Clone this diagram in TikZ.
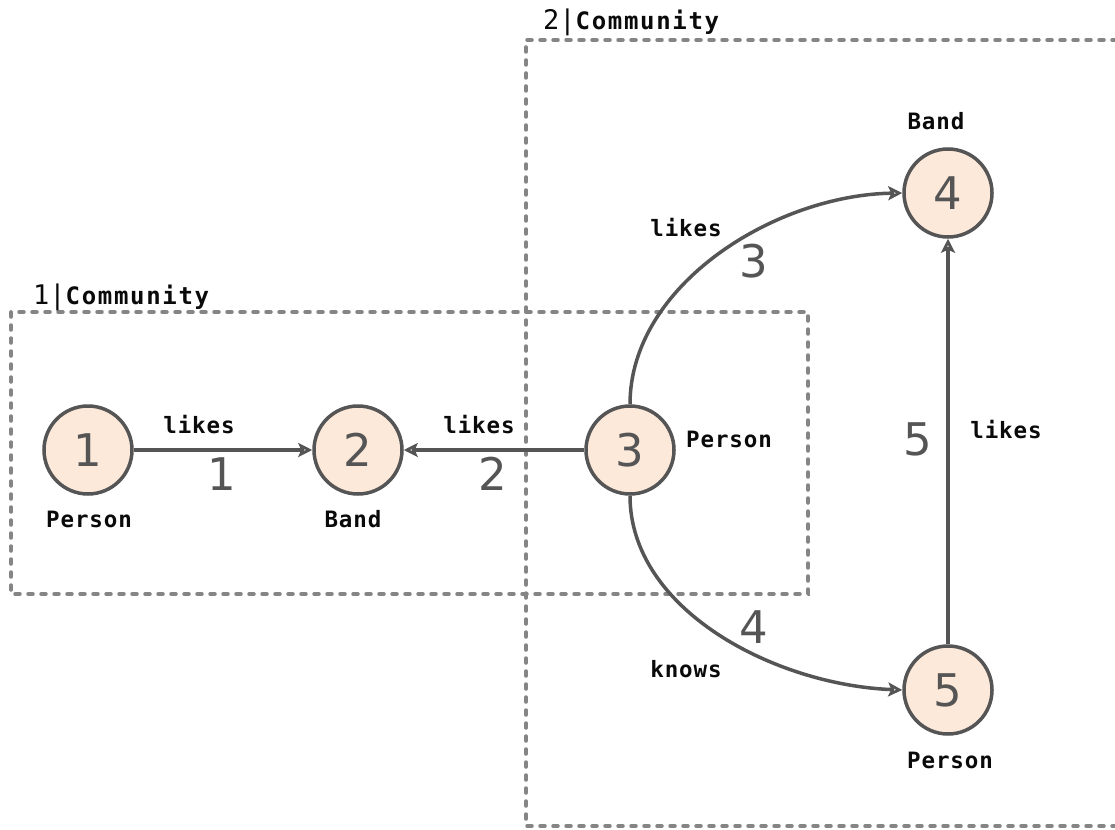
\documentclass[tikz,border=0pt]{standalone}
\usepackage{fontspec}
\setmainfont{DejaVu Sans}
\newfontfamily\lblfont[LetterSpace=4]{DejaVu Sans Mono}
\newfontfamily\titlefont[LetterSpace=7]{DejaVu Sans Mono}
\newfontfamily\monofont{DejaVu Sans Mono}
\usetikzlibrary{arrows.meta}
\definecolor{edgegray}{HTML}{555555}
\definecolor{boxgray}{HTML}{858585}
\definecolor{peach}{HTML}{FDE9DA}
\definecolor{ink}{HTML}{0A0A0A}
\tikzset{
  vertex/.style={circle, draw=edgegray, line width=3.5pt, fill=peach,
    minimum size=88pt, inner sep=0pt, text=edgegray,
    font=\fontsize{45}{45}\selectfont},
  tag/.style={anchor=base, inner sep=0pt, text=ink,
    font=\lblfont\bfseries\fontsize{22.5}{22.5}\selectfont},
  num/.style={anchor=base, inner sep=0pt, text=edgegray,
    font=\fontsize{45}{45}\selectfont},
  rel/.style={draw=edgegray, line width=3.5pt,
    -{Stealth[open, length=14pt, width=14pt, inset=3pt, line width=3pt]}},
  community/.style={draw=boxgray, line width=3.5pt, line cap=round,
    dash pattern=on 5pt off 8pt},
  commtitle/.style={anchor=base west, inner sep=0pt, text=ink}
}
\newcommand{\commlabel}[1]{{\monofont\fontsize{27}{27}\selectfont #1|}%
  {\titlefont\bfseries\fontsize{24}{24}\selectfont Community}}
\begin{document}
\begin{tikzpicture}[x=1pt, y=-1pt]
\useasboundingbox (0,0) rectangle (1115,829);
\clip (0,0) rectangle (1115,829);

% community regions
\draw[community] (11,312) rectangle (808,594);
\draw[community] (1130,40) -- (526,40) -- (526,826) -- (1130,826);
\node[commtitle] (c1) at (33,304) {\commlabel{1}};
\node[commtitle] (c2) at (543,30) {\commlabel{2}};

% vertices
\node[vertex] (n1) at (88,450) {1};
\node[vertex] (n2) at (358,450) {2};
\node[vertex] (n3) at (630,450) {3};
\node[vertex] (n4) at (948,193) {4};
\node[vertex] (n5) at (948,690) {5};

% vertex types
\node[tag] (t1) at (89,527) {Person};
\node[tag] (t2) at (353,527) {Band};
\node[tag] (t3) at (729,447) {Person};
\node[tag] (t4) at (936,130) {Band};
\node[tag] (t5) at (950,768) {Person};

% relationships
\draw[rel] (n1) -- (n2);
\draw[rel] (n3) -- (n2);
\draw[rel] (n3.north) .. controls (630,285) and (775,195) .. (n4.west);
\draw[rel] (n3.south) .. controls (630,610) and (775,685) .. (n5.west);
\draw[rel] (n5) -- (n4);

% relationship labels and ids
\node[tag] (l1) at (199,433) {likes};
\node[num] (e1) at (222,490) {1};
\node[tag] (l2) at (479,433) {likes};
\node[num] (e2) at (493,490) {2};
\node[tag] (l3) at (686,236) {likes};
\node[num] (e3) at (754,277) {3};
\node[tag] (l4) at (686,677) {knows};
\node[num] (e4) at (754,643) {4};
\node[tag] (l5) at (1006,438) {likes};
\node[num] (e5) at (918,455) {5};
\end{tikzpicture}
\end{document}
